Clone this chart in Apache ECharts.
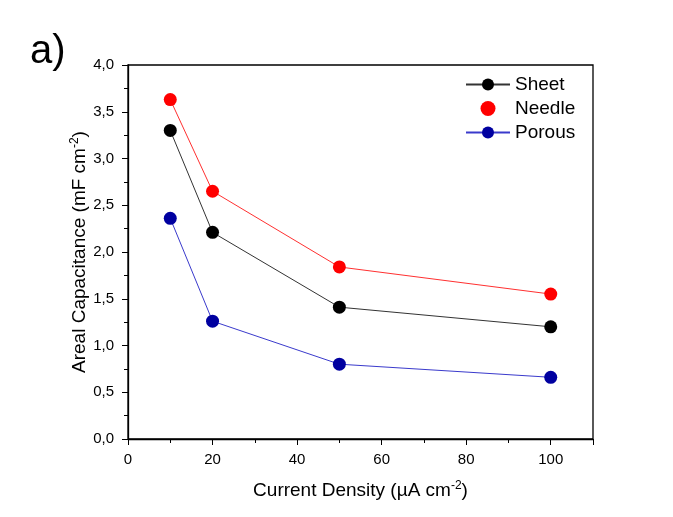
<!DOCTYPE html>
<html>
<head>
<meta charset="utf-8">
<script src="https://cdn.jsdelivr.net/npm/echarts@6/dist/echarts.min.js"></script>
<style>html,body{margin:0;padding:0;background:#fff}#c{width:673px;height:517px}</style>
</head>
<body>
<div id="c"></div>
<script>
const currentDensity = [10, 20, 50, 100];
const sheet = [3.30, 2.21, 1.41, 1.20];
const needle = [3.63, 2.65, 1.84, 1.55];
const porous = [2.36, 1.26, 0.80, 0.66];
const seriesNames = ['Sheet', 'Needle', 'Porous'];

const font = '"Liberation Sans", Arial, sans-serif';
const chart = echarts.init(document.getElementById('c'));
const pair = arr => currentDensity.map((x, i) => [x, arr[i]]);
const supRich = { sup: { fontFamily: font, fontSize: 12, verticalAlign: 'top', padding: [0, 0, 9, 0], color: '#000' } };

chart.setOption({
  backgroundColor: '#fff',
  animation: false,
  textStyle: { fontFamily: font },
  title: {
    text: 'a)', left: 25, top: 27,
    textStyle: { fontFamily: font, fontSize: 40, fontWeight: 'normal', color: '#000' }
  },
  legend: {
    orient: 'vertical', left: 460, top: 70, itemGap: 5,
    itemWidth: 44, itemHeight: 15,
    textStyle: { fontFamily: font, fontSize: 19, color: '#000' },
    data: [
      { name: seriesNames[0] },
      { name: seriesNames[1], icon: 'circle' },
      { name: seriesNames[2] }
    ]
  },
  grid: { left: 128, top: 65, width: 465, height: 374, show: true, borderColor: '#000', borderWidth: 1.3 },
  xAxis: {
    type: 'value', min: 0, max: 110, interval: 20,
    name: 'Current Density (µA cm{sup|-2})',
    nameLocation: 'middle', nameGap: 41, nameMoveOverlap: false,
    nameTextStyle: { fontFamily: font, fontSize: 19, color: '#000', rich: supRich },
    axisLine: { show: true, lineStyle: { color: '#000', width: 1.3 } },
    axisTick: { show: true, inside: false, length: 6, lineStyle: { color: '#000' } },
    minorTick: { show: true, splitNumber: 2, length: 4, lineStyle: { color: '#000' } },
    axisLabel: { fontFamily: font, fontSize: 15, color: '#000', margin: 13, formatter: v => v > 100 ? '' : String(v) },
    splitLine: { show: false }
  },
  yAxis: {
    type: 'value', min: 0, max: 4, interval: 0.5,
    name: 'Areal Capacitance (mF cm{sup|-2})',
    nameLocation: 'middle', nameGap: 38, nameRotate: 90, nameMoveOverlap: false,
    nameTextStyle: { fontFamily: font, fontSize: 19, color: '#000', rich: supRich },
    axisLine: { show: true, lineStyle: { color: '#000', width: 1.3 } },
    axisTick: { show: true, inside: false, length: 6, lineStyle: { color: '#000' } },
    minorTick: { show: true, splitNumber: 2, length: 4, lineStyle: { color: '#000' } },
    axisLabel: { fontFamily: font, fontSize: 15, color: '#000', margin: 14, formatter: v => v.toFixed(1).replace('.', ',') },
    splitLine: { show: false }
  },
  series: [
    {
      name: seriesNames[0], type: 'line', data: pair(sheet),
      symbol: 'circle', symbolSize: 13,
      itemStyle: { color: '#000' },
      lineStyle: { color: '#333', width: 1 }
    },
    {
      name: seriesNames[1], type: 'line', data: pair(needle),
      symbol: 'circle', symbolSize: 13,
      itemStyle: { color: '#ff0000' },
      lineStyle: { color: '#ff3030', width: 1 }
    },
    {
      name: seriesNames[2], type: 'line', data: pair(porous),
      symbol: 'circle', symbolSize: 13,
      itemStyle: { color: '#0000a0' },
      lineStyle: { color: '#3a3acc', width: 1 }
    }
  ]
});
</script>
</body>
</html>
